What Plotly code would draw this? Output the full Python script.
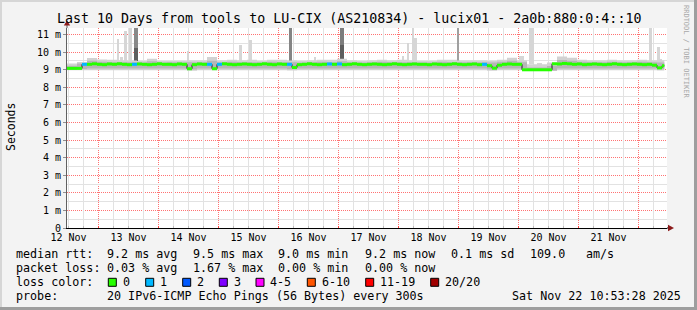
import plotly.graph_objects as go
import pandas as pd

# ---------------- data ----------------
title_text = "Last 10 Days from tools to LU-CIX (AS210834) - lucix01 - 2a0b:880:0:4::10"
view_start = "2025-11-12 11:22"
view_end = "2025-11-22 11:22"
data_start = "2025-11-12 11:22"
data_end = "2025-11-22 10:18"
grid_day0 = "2025-11-13 00:00"

# median rtt (ms) every 2 hours
median = [
    9.07, 9.07, 9.07, 9.30, 9.30, 9.33, 9.30, 9.28, 9.32, 9.30, 9.33, 9.30, 9.28, 9.30, 9.32, 9.30, 9.28, 9.30, 9.33, 9.30,
    9.30, 9.28, 9.32, 9.30, 9.05, 9.28, 9.32, 9.30, 9.30, 9.05, 9.30, 9.33, 9.30, 9.28, 9.30, 9.32, 9.30, 9.28, 9.30, 9.33,
    9.30, 9.28, 9.32, 9.30, 9.30, 9.12, 9.28, 9.30, 9.33, 9.30, 9.28, 9.30, 9.32, 9.30, 9.32, 9.28, 9.30, 9.33, 9.30, 9.28,
    9.30, 9.32, 9.30, 9.28, 9.30, 9.33, 9.30, 9.28, 9.30, 9.32, 9.30, 9.30, 9.28, 9.32, 9.30, 9.28, 9.30, 9.33, 9.30, 9.28,
    9.30, 9.32, 9.28, 9.30, 9.22, 9.08, 9.25, 9.30, 9.32, 9.30, 9.30, 8.99, 8.99, 8.99, 8.99, 8.99, 8.99, 9.33, 9.32, 9.35,
    9.33, 9.30, 9.32, 9.28, 9.30, 9.32, 9.30, 9.28, 9.30, 9.33, 9.30, 9.28, 9.30, 9.32, 9.30, 9.28, 9.30, 9.25, 9.10, 9.22,
]
# lost pings (of 20) for each 2-hour step
loss = [
    0, 0, 0, 1, 0, 0, 0, 0, 0, 0, 0, 0, 0, 1, 0, 0, 0, 0, 0, 0,
    0, 0, 0, 0, 0, 0, 0, 0, 1, 0, 1, 0, 0, 0, 0, 0, 0, 0, 0, 0,
    0, 0, 0, 0, 1, 0, 0, 0, 0, 0, 0, 0, 1, 0, 1, 0, 0, 0, 0, 0,
    0, 0, 0, 0, 0, 0, 0, 0, 0, 0, 0, 0, 0, 0, 0, 0, 0, 0, 0, 0,
    0, 0, 0, 1, 0, 0, 0, 0, 0, 0, 0, 0, 0, 0, 0, 0, 0, 0, 0, 0,
    0, 0, 0, 0, 0, 0, 0, 0, 0, 0, 0, 0, 0, 0, 0, 0, 0, 0, 0, 0,
]
# smoke (ping spread) every 4 hours
smoke_top = [
    9.35, 9.43, 9.66, 9.58, 9.56, 9.52, 9.52, 9.49, 9.62, 9.49, 9.49, 9.49, 9.52, 9.52, 9.72,
    9.52, 9.56, 9.52, 9.56, 9.49, 9.56, 9.56, 9.52, 9.49, 9.52, 9.56, 9.56, 9.62, 9.52, 9.49,
    9.52, 9.56, 9.52, 9.56, 9.52, 9.49, 9.49, 9.56, 9.56, 9.52, 9.52, 9.52, 9.49, 9.56, 9.68,
    9.52, 9.30, 9.30, 9.40, 9.75, 9.68, 9.56, 9.52, 9.52, 9.56, 9.52, 9.52, 9.56, 9.52, 9.52,
]
smoke_core_top = [
    9.22, 9.35, 9.50, 9.44, 9.42, 9.42, 9.42, 9.40, 9.48, 9.40, 9.42, 9.40, 9.42, 9.42, 9.50,
    9.42, 9.44, 9.42, 9.42, 9.40, 9.44, 9.42, 9.42, 9.40, 9.42, 9.44, 9.42, 9.47, 9.42, 9.40,
    9.42, 9.44, 9.42, 9.42, 9.42, 9.40, 9.40, 9.44, 9.42, 9.42, 9.42, 9.42, 9.40, 9.44, 9.50,
    9.42, 9.12, 9.12, 9.20, 9.55, 9.50, 9.44, 9.42, 9.42, 9.44, 9.42, 9.42, 9.44, 9.42, 9.40,
]
smoke_core_bot = [
    8.99, 9.04, 9.06, 9.06, 9.06, 9.06, 9.06, 9.06, 9.06, 9.06, 9.06, 9.06, 9.00, 9.06, 9.06,
    9.06, 9.06, 9.06, 9.06, 9.06, 9.06, 9.06, 9.02, 9.06, 9.06, 9.06, 9.06, 9.06, 9.06, 9.06,
    9.06, 9.06, 9.06, 9.06, 9.06, 9.06, 9.06, 9.06, 9.06, 9.06, 9.06, 9.06, 9.00, 9.06, 9.06,
    9.06, 8.95, 8.95, 8.95, 9.06, 9.06, 9.06, 9.06, 9.06, 9.06, 9.06, 9.06, 9.06, 9.06, 9.02,
]
smoke_bot = [
    8.96, 8.97, 8.97, 8.97, 8.97, 8.97, 8.97, 8.97, 8.97, 8.97, 8.97, 8.97, 8.93, 8.97, 8.97,
    8.97, 8.97, 8.97, 8.97, 8.97, 8.97, 8.97, 8.95, 8.97, 8.97, 8.97, 8.97, 8.97, 8.97, 8.97,
    8.97, 8.97, 8.97, 8.97, 8.97, 8.97, 8.97, 8.97, 8.97, 8.97, 8.97, 8.97, 8.93, 8.97, 8.97,
    8.97, 8.92, 8.92, 8.92, 8.97, 8.97, 8.97, 8.97, 8.97, 8.97, 8.97, 8.97, 8.97, 8.97, 8.95,
]
# single outlier spikes (light smoke)
spike_time = ["2025-11-13 07:46", "2025-11-13 09:10", "2025-11-13 10:48", "2025-11-13 12:41",
              "2025-11-14 11:46", "2025-11-15 08:53", "2025-11-15 12:41", "2025-11-16 14:41",
              "2025-11-18 01:53", "2025-11-18 03:48", "2025-11-18 05:48", "2025-11-18 06:48",
              "2025-11-20 01:10", "2025-11-20 05:10", "2025-11-20 08:22", "2025-11-22 04:53",
              "2025-11-22 07:53", "2025-11-22 08:58"]
spike_width_min = [48, 60, 60, 72, 24, 72, 84, 48, 48, 55, 55, 65, 100, 100, 100, 72, 62, 65]
spike_top = [10.76, 9.70, 11.17, 11.60, 10.07, 10.41, 10.70, 9.70, 9.80, 10.50, 11.60, 10.80,
             9.80, 11.60, 9.40, 11.60, 10.30, 9.60]
spike_base = 9.30
# heavy smoke bars (many pings high)
dark_time = ["2025-11-13 14:48", "2025-11-16 04:48", "2025-11-17 01:22", "2025-11-18 23:48"]
dark_width_min = [96, 65, 113, 24]
dark_top = [11.60, 11.60, 11.60, 11.60]
dark_lower_top = [10.20, 9.50, 10.40, 9.40]
dark_color = ["#898989", "#858585", "#7d7d7d", "#a0a0a0"]

# legend / statistics text
rtt_label = "median rtt:"
rtt_stats = ["9.2 ms avg", "9.5 ms max", "9.0 ms min", "9.2 ms now", "0.1 ms sd", "109.0", "am/s"]
loss_label = "packet loss:"
loss_stats = ["0.03 % avg", "1.67 % max", "0.00 % min", "0.00 % now"]
color_label = "loss color:"
loss_names = ["0", "1", "2", "3", "4-5", "6-10", "11-19", "20/20"]
loss_palette = ["#26ff00", "#00b8ff", "#0059ff", "#7e00ff", "#ff00ff", "#ff5500", "#ff0000", "#a10000"]
probe_label = "probe:"
probe_text = "20 IPv6-ICMP Echo Pings (56 Bytes) every 300s"
stamp_text = "Sat Nov 22 10:53:28 2025"
y_axis_title = "Seconds"
watermark = "RRDTOOL / TOBI OETIKER"

# ---------------- layout helpers ----------------
W, H = 697, 310
PL, PR, PT, PB = 67, 667, 28, 228
MONO = "DejaVu Sans Mono"
PX_PER_MS = 17.6
Y_MAX = (PB - PT) / PX_PER_MS


def px(x):
    return (x - PL) / (PR - PL)


def py(y):
    return (PB - y) / (PB - PT)


def txt(x, y, s, size=11.7, xanchor="left", color="#000000", angle=0):
    return dict(xref="paper", yref="paper", x=px(x), y=py(y), text=s, showarrow=False,
                xanchor=xanchor, yanchor="middle", textangle=angle, borderpad=0, borderwidth=0,
                font=dict(family=MONO, size=size, color=color))


med_t = list(pd.date_range(data_start, periods=len(median), freq="2h"))
smk_t = list(pd.date_range(data_start, periods=len(smoke_top), freq="4h"))
t_end = pd.Timestamp(data_end)


def ext(ts, vals):
    return ts + [t_end], list(vals) + [vals[-1]]


fig = go.Figure()

# light outlier spikes
fig.add_trace(go.Bar(x=pd.to_datetime(spike_time), y=[t - spike_base for t in spike_top],
                     base=spike_base, width=[w * 60000 for w in spike_width_min],
                     marker=dict(color="#d6d6d6", line=dict(width=0)), hoverinfo="skip"))

# smoke layers
for lo, hi, col in [(smoke_bot, smoke_top, "#d2d2d2"), (smoke_core_bot, smoke_core_top, "#b6b6b6")]:
    xs, ylo = ext(smk_t, lo)
    _, yhi = ext(smk_t, hi)
    fig.add_trace(go.Scatter(x=xs, y=ylo, mode="lines", line=dict(width=0, shape="hv"),
                             hoverinfo="skip"))
    fig.add_trace(go.Scatter(x=xs, y=yhi, mode="lines", line=dict(width=0, shape="hv"),
                             fill="tonexty", fillcolor=col, hoverinfo="skip"))

# heavy smoke bars
fig.add_trace(go.Bar(x=pd.to_datetime(dark_time), y=[t - spike_base for t in dark_top],
                     base=spike_base, width=[w * 60000 for w in dark_width_min],
                     marker=dict(color=dark_color, line=dict(width=0)), hoverinfo="skip"))
fig.add_trace(go.Bar(x=pd.to_datetime(dark_time), y=[t - spike_base for t in dark_lower_top],
                     base=spike_base, width=[w * 60000 for w in dark_width_min],
                     marker=dict(color="#5e5e5e", line=dict(width=0)), hoverinfo="skip"))

# median line (black steps, loss-coloured levels)
xs, ys = ext(med_t, median)
fig.add_trace(go.Scatter(x=xs, y=ys, mode="lines", line=dict(color="#202020", width=1, shape="hv"),
                         hoverinfo="skip"))
bounds = med_t + [t_end]
loss_levels = [0, 1, 2, 3, 5, 10, 19, 20]
for lvl in sorted(set(loss)):
    cx, cy = [], []
    for i, (m, l) in enumerate(zip(median, loss)):
        if l != lvl:
            continue
        cx += [bounds[i], bounds[i + 1], None]
        cy += [m, m, None]
    ci = next(k for k, v in enumerate(loss_levels) if lvl <= v)
    fig.add_trace(go.Scatter(x=cx, y=cy, mode="lines", line=dict(color=loss_palette[ci], width=3),
                             hoverinfo="skip"))

# empty trace that carries the overlay (minor grid) axes
fig.add_trace(go.Scatter(x=[], y=[], xaxis="x2", yaxis="y2", hoverinfo="skip"))

red_grid = "rgba(255,20,20,0.6)"
minor_grid = "#e2e2e2"
DOTS = "1px,1px"

# minor grid positions: every 6 hours (not midnight) and every half ms (not whole ms)
minor_x = [t for t in pd.date_range("2025-11-12 00:00", "2025-11-23 00:00", freq="6h") if t.hour != 0]
minor_y = [k / 2 for k in range(1, 24, 2)]

fig.update_layout(
    width=W, height=H, autosize=False,
    margin=dict(l=PL, r=W - PR, t=PT, b=H - PB, pad=0),
    paper_bgcolor="#f3f3f3", plot_bgcolor="#ffffff",
    showlegend=False, barmode="overlay", bargap=0,
    font=dict(family=MONO, color="#000000"),
    xaxis=dict(type="date", range=[view_start, view_end], tick0=grid_day0, dtick=86400000,
               tickformat="%d %b", ticklabelmode="period", showgrid=True, gridcolor=red_grid,
               griddash=DOTS, gridwidth=1, ticks="inside", ticklen=2, tickcolor="#ff4040",
               showline=True, linecolor="#000000", linewidth=1, zeroline=False,
               tickfont=dict(family=MONO, size=10, color="#000000"), fixedrange=True),
    yaxis=dict(range=[0, Y_MAX], tickmode="linear", tick0=0, dtick=1,
               ticksuffix=" m", labelalias={"0 m": "0"},
               showgrid=True, gridcolor=red_grid, griddash=DOTS, gridwidth=1,
               ticks="outside", ticklen=3, tickcolor="#909090",
               showline=True, linecolor="#606060", linewidth=1, zeroline=False,
               tickfont=dict(family=MONO, size=10, color="#000000"), fixedrange=True),
    xaxis2=dict(type="date", overlaying="x", range=[view_start, view_end],
                tickmode="array", tickvals=minor_x, showticklabels=False,
                showgrid=True, gridcolor=minor_grid, gridwidth=1,
                ticks="inside", ticklen=2, tickcolor="#bbbbbb", showline=False, zeroline=False,
                fixedrange=True),
    yaxis2=dict(overlaying="y", side="right", range=[0, Y_MAX],
                tickmode="array", tickvals=minor_y, showticklabels=False,
                showgrid=True, gridcolor=minor_grid, gridwidth=1,
                ticks="", showline=False, zeroline=False, fixedrange=True),
)

ann = [
    txt(348.5, 18.7, title_text, size=13.3, xanchor="center"),
    txt(10.5, 127.5, y_axis_title, size=11.5, xanchor="center", angle=-90),
    txt(686.5, 51.5, watermark, size=7, xanchor="center", angle=90, color="#a8a8a8"),
]
row_y = [254.3, 268.3, 282.3, 296.0]
rtt_x = [106.5, 192.5, 278.3, 365.0, 451.0, 530.0, 585.5]
loss_x = [106.5, 192.5, 278.3, 365.0]
ann.append(txt(15.5, row_y[0], rtt_label))
for s, x in zip(rtt_stats, rtt_x):
    ann.append(txt(x, row_y[0], s))
ann.append(txt(15.5, row_y[1], loss_label))
for s, x in zip(loss_stats, loss_x):
    ann.append(txt(x, row_y[1], s))
ann.append(txt(15.5, row_y[2], color_label))
box_x = [108.3, 145.7, 182.7, 219.3, 256.0, 307.3, 365.7, 430.7]
name_x = [122.6, 160.3, 197.0, 233.6, 270.3, 322.0, 380.0, 445.0]
shapes = []
for bx, nx, nm, col in zip(box_x, name_x, loss_names, loss_palette):
    ann.append(txt(nx, row_y[2], nm))
    shapes.append(dict(type="rect", xref="paper", yref="paper", x0=px(bx), x1=px(bx + 8),
                       y0=py(278.3), y1=py(286.3), fillcolor=col,
                       line=dict(color="#000000", width=1)))
ann.append(txt(15.5, row_y[3], probe_label))
ann.append(txt(106.5, row_y[3], probe_text))
ann.append(txt(681.0, row_y[3], stamp_text, xanchor="right"))

# frame shading
shapes += [
    dict(type="rect", xref="paper", yref="paper", x0=px(0), x1=px(W), y0=py(0), y1=py(2),
         fillcolor="#d6d6d6", line=dict(width=0), layer="above"),
    dict(type="rect", xref="paper", yref="paper", x0=px(0), x1=px(2), y0=py(0), y1=py(H),
         fillcolor="#d6d6d6", line=dict(width=0), layer="above"),
    dict(type="rect", xref="paper", yref="paper", x0=px(694), x1=px(W), y0=py(0), y1=py(H),
         fillcolor="#9e9e9e", line=dict(width=0), layer="above"),
    dict(type="rect", xref="paper", yref="paper", x0=px(0), x1=px(W), y0=py(307), y1=py(H),
         fillcolor="#9e9e9e", line=dict(width=0), layer="above"),
    # axis extensions and arrows
    dict(type="line", xref="paper", yref="paper", x0=px(PR), x1=px(670), y0=py(PB), y1=py(PB),
         line=dict(color="#000000", width=1)),
    dict(type="line", xref="paper", yref="paper", x0=px(PL), x1=px(PL), y0=py(PT), y1=py(24),
         line=dict(color="#606060", width=1)),
    dict(type="path", xref="paper", yref="paper",
         path=f"M {px(668)} {py(224.8)} L {px(674)} {py(228)} L {px(668)} {py(231.2)} Z",
         fillcolor="#8b1a1a", line=dict(width=0)),
    dict(type="path", xref="paper", yref="paper",
         path=f"M {px(63.8)} {py(25.5)} L {px(67)} {py(20.5)} L {px(70.2)} {py(25.5)} Z",
         fillcolor="#8b1a1a", line=dict(width=0)),
]
fig.update_layout(annotations=ann, shapes=shapes)

fig.write_html("out.html")
